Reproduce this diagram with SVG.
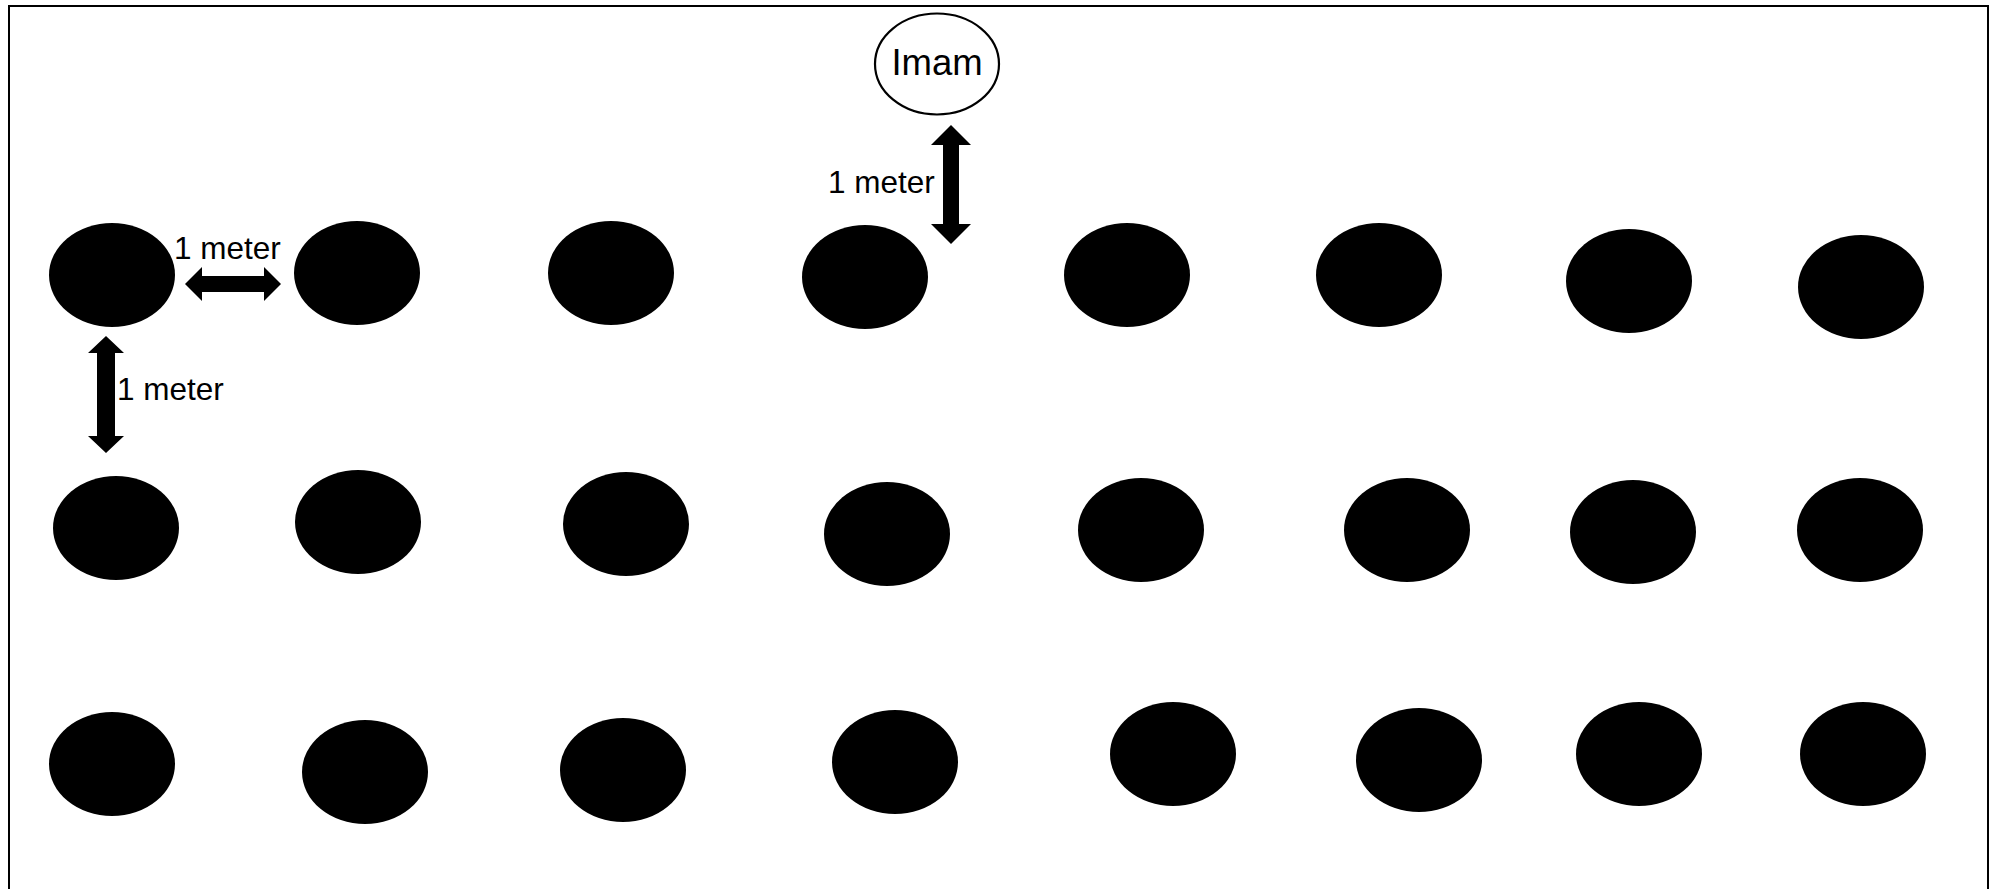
<svg xmlns="http://www.w3.org/2000/svg" width="1995" height="889" viewBox="0 0 1995 889">
<style>
.p{fill:#000;stroke:none}
.imam{fill:#fff;stroke:#000;stroke-width:2.2}
.t{font-family:"Liberation Sans",Arial,sans-serif;font-size:31.5px;fill:#000}
.ti{font-family:"Liberation Sans",Arial,sans-serif;font-size:36.5px;fill:#000;text-anchor:middle}
.a{fill:#000;stroke:none}
</style>
<rect x="0" y="0" width="1995" height="889" fill="#fff"/>
<rect x="9" y="6" width="1979" height="890" fill="none" stroke="#000" stroke-width="2"/>
<g id="imam"><ellipse class="imam" cx="937" cy="64" rx="62" ry="50.5"/><text class="ti" x="937" y="75">Imam</text></g>
<g id="row1">
<ellipse id="r1c1" class="p" cx="112" cy="275" rx="63" ry="52"/>
<ellipse id="r1c2" class="p" cx="357" cy="273" rx="63" ry="52"/>
<ellipse id="r1c3" class="p" cx="611" cy="273" rx="63" ry="52"/>
<ellipse id="r1c4" class="p" cx="865" cy="277" rx="63" ry="52"/>
<ellipse id="r1c5" class="p" cx="1127" cy="275" rx="63" ry="52"/>
<ellipse id="r1c6" class="p" cx="1379" cy="275" rx="63" ry="52"/>
<ellipse id="r1c7" class="p" cx="1629" cy="281" rx="63" ry="52"/>
<ellipse id="r1c8" class="p" cx="1861" cy="287" rx="63" ry="52"/>
</g>
<g id="row2">
<ellipse id="r2c1" class="p" cx="116" cy="528" rx="63" ry="52"/>
<ellipse id="r2c2" class="p" cx="358" cy="522" rx="63" ry="52"/>
<ellipse id="r2c3" class="p" cx="626" cy="524" rx="63" ry="52"/>
<ellipse id="r2c4" class="p" cx="887" cy="534" rx="63" ry="52"/>
<ellipse id="r2c5" class="p" cx="1141" cy="530" rx="63" ry="52"/>
<ellipse id="r2c6" class="p" cx="1407" cy="530" rx="63" ry="52"/>
<ellipse id="r2c7" class="p" cx="1633" cy="532" rx="63" ry="52"/>
<ellipse id="r2c8" class="p" cx="1860" cy="530" rx="63" ry="52"/>
</g>
<g id="row3">
<ellipse id="r3c1" class="p" cx="112" cy="764" rx="63" ry="52"/>
<ellipse id="r3c2" class="p" cx="365" cy="772" rx="63" ry="52"/>
<ellipse id="r3c3" class="p" cx="623" cy="770" rx="63" ry="52"/>
<ellipse id="r3c4" class="p" cx="895" cy="762" rx="63" ry="52"/>
<ellipse id="r3c5" class="p" cx="1173" cy="754" rx="63" ry="52"/>
<ellipse id="r3c6" class="p" cx="1419" cy="760" rx="63" ry="52"/>
<ellipse id="r3c7" class="p" cx="1639" cy="754" rx="63" ry="52"/>
<ellipse id="r3c8" class="p" cx="1863" cy="754" rx="63" ry="52"/>
</g>
<g id="connectors">
<polygon class="a" points="185,284 202,267 202,276 264,276 264,267 281,284 264,301 264,292 202,292 202,301"/>
<polygon class="a" points="106,336 124,353 115,353 115,436 124,436 106,453 88,436 97,436 97,353 88,353"/>
<polygon class="a" points="951,125 971,145 959,145 959,224 971,224 951,244 931,224 943,224 943,145 931,145"/>
</g>
<g id="labels">
<text class="t" x="174" y="259">1 meter</text>
<text class="t" x="117" y="400">1 meter</text>
<text class="t" x="828" y="193">1 meter</text>
</g>
</svg>
